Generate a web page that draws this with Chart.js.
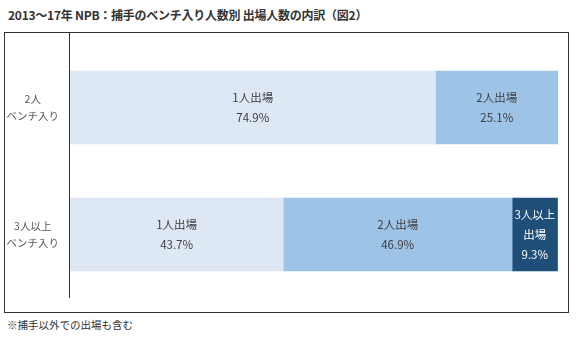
<!DOCTYPE html>
<html>
<head>
<meta charset="utf-8">
<script src="https://cdn.jsdelivr.net/npm/chart.js@4/dist/chart.umd.min.js"></script>
<style>
  body { margin: 0; background: #fff; font-family: "Noto Sans CJK JP", sans-serif; }
  #title { position: absolute; left: 8px; top: 6px; font-size: 12px; letter-spacing: -0.25px; font-weight: bold; color: #333; white-space: nowrap; }
  #box { position: absolute; left: 4px; top: 32px; width: 565px; height: 281px; box-sizing: border-box; border: 1px solid #333; }
  #chart { position: absolute; left: 0; top: 0; }
  #note { position: absolute; left: 7px; top: 317px; font-size: 10.5px; color: #333; white-space: nowrap; }
</style>
</head>
<body>
<div id="title">2013～17年 NPB：捕手のベンチ入り人数別 出場人数の内訳（図2）</div>
<div id="box"><canvas id="chart" width="563" height="279"></canvas></div>
<div id="note">※捕手以外での出場も含む</div>
<script>
document.addEventListener("DOMContentLoaded", function () {

    const categories = [["2人", "ベンチ入り"], ["3人以上", "ベンチ入り"]];
    const seriesNames = ["1人出場", "2人出場", "3人以上出場"];
    const seriesLabelLines = [["1人出場"], ["2人出場"], ["3人以上", "出場"]];
    const oneGame = [74.9, 43.7];
    const twoGame = [25.1, 46.9];
    const threeGame = [0, 9.3];

    const colors = ["#dde8f4", "#9dc3e6", "#1f4e79"];
    const textColors = ["#404040", "#404040", "#ffffff"];

    // labels inside the bars
    const barLabels = {
        id: "barLabels",
        afterDatasetsDraw(chart) {
            const c = chart.ctx;
            c.save();
            c.font = "11.5px 'Noto Sans CJK JP'";
            c.textAlign = "center";
            c.textBaseline = "middle";
            chart.data.datasets.forEach(function (ds, i) {
                chart.getDatasetMeta(i).data.forEach(function (bar, j) {
                    const v = ds.data[j];
                    if (!v) return;
                    const lines = seriesLabelLines[i].concat([v.toFixed(1) + "%"]);
                    const cx = (bar.x + bar.base) / 2;
                    const lh = 20;
                    let y = bar.y - (lines.length - 1) * lh / 2;
                    c.fillStyle = textColors[i];
                    lines.forEach(function (t) {
                        c.fillText(t, cx, y);
                        y += lh;
                    });
                });
            });
            c.restore();
        }
    };

    // vertical axis line from the top of the box
    const axisLine = {
        id: "axisLine",
        afterDraw(chart) {
            const c = chart.ctx;
            const x = Math.round(chart.chartArea.left) - 0.5;
            c.save();
            c.strokeStyle = "#333";
            c.lineWidth = 1;
            c.beginPath();
            c.moveTo(x, 0);
            c.lineTo(x, chart.chartArea.bottom);
            c.stroke();
            c.restore();
        }
    };

    new Chart(document.getElementById("chart"), {
        type: "bar",
        data: {
            labels: categories,
            datasets: [
                { label: seriesNames[0], data: oneGame, backgroundColor: colors[0] },
                { label: seriesNames[1], data: twoGame, backgroundColor: colors[1] },
                { label: seriesNames[2], data: threeGame, backgroundColor: colors[2] }
            ]
        },
        options: {
            indexAxis: "y",
            responsive: false,
            animation: false,
            layout: { padding: { top: 11, right: 10, bottom: 14, left: 0 } },
            datasets: { bar: { barThickness: 73 } },
            scales: {
                x: { stacked: true, min: 0, max: 100, display: false },
                y: {
                    stacked: true,
                    grid: { display: false },
                    border: { display: false },
                    afterFit: function (scale) {
                        scale.width = 65;
                        scale.paddingTop = 0;
                        scale.paddingBottom = 0;
                    },
                    ticks: {
                        crossAlign: "center",
                        color: "#595959",
                        font: { family: "Noto Sans CJK JP", size: 10.5, lineHeight: 1.6 }
                    }
                }
            },
            plugins: {
                legend: { display: false },
                tooltip: { enabled: false }
            }
        },
        plugins: [barLabels, axisLine]
    });

});
</script>
</body>
</html>
